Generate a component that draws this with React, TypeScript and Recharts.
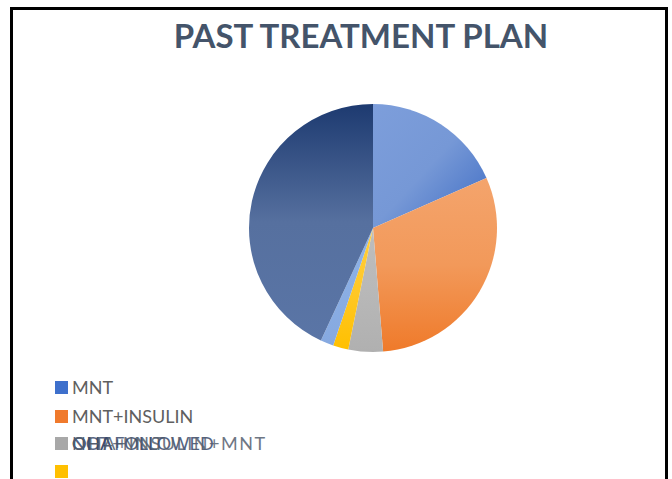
import React from "react";
import { PieChart, Pie, Cell, Legend } from "recharts";

const categories = ["MNT", "MNT+INSULIN", "OHA+MNT", "OHA", "NOT FOLLOWED", "OHA+INSULIN+MNT"];
const values = [18.4, 30.3, 4.5, 2.0, 1.7, 43.1];
const title = "PAST TREATMENT PLAN";

const gradients = [
  { id: "g0", x1: 0, y1: 0, x2: 1, y2: 1, stops: ["#7D9EDB", "#7698D6", "#3E6CC4"] },
  { id: "g1", x1: 0, y1: 0, x2: 0, y2: 1, stops: ["#F4A46C", "#F2995A", "#EF7A2A"] },
  { id: "g2", x1: 0, y1: 0, x2: 0, y2: 1, stops: ["#BDBDBD", "#B8B8B8", "#B0B0B0"] },
  { id: "g3", x1: 0, y1: 0, x2: 0, y2: 1, stops: ["#FFCD3C", "#FFC828", "#FFC000"] },
  { id: "g4", x1: 0, y1: 0, x2: 0, y2: 1, stops: ["#8EB2E6", "#8AAEE4", "#86A9E0"] },
  { id: "g5", x1: 0, y1: 0, x2: 0, y2: 1, stops: ["#1D3A70", "#56709F", "#5A75A6"] },
];
const legendColors = ["#3E70CC", "#F07A2C", "#A8A8A8", "#FFC000"];

const data = categories.map((name, i) => ({ name, value: values[i] }));

const renderLegend = () => {
  const rowStyle: React.CSSProperties = {
    position: "absolute",
    left: 0,
    display: "flex",
    alignItems: "center",
    height: 18,
  };
  const sq = (c: string): React.CSSProperties => ({
    width: 13,
    height: 13,
    background: c,
    marginRight: 4,
    flex: "none",
  });
  const txt: React.CSSProperties = {
    fontFamily: "Lato, 'Open Sans', sans-serif",
    fontSize: 18,
    color: "#5F5F5F",
    whiteSpace: "nowrap",
    lineHeight: "18px",
  };
  return (
    <div style={{ position: "relative", width: 260, height: 100 }}>
      <div style={{ ...rowStyle, top: 0 }}>
        <div style={sq(legendColors[0])} />
        <span style={txt}>{categories[0]}</span>
      </div>
      <div style={{ ...rowStyle, top: 29 }}>
        <div style={sq(legendColors[1])} />
        <span style={txt}>{categories[1]}</span>
      </div>
      <div style={{ ...rowStyle, top: 56 }}>
        <div style={sq(legendColors[2])} />
        <div style={{ position: "relative", height: 18 }}>
          {[2, 3, 4, 5].map((k) => (
            <span
              key={k}
              style={{
                ...txt,
                position: "absolute",
                left: 0,
                top: 0,
                color: k === 4 || k === 3 ? "#3A4A6C" : "#55606F",
                opacity: 0.85,
                letterSpacing: k === 5 ? 1.5 : 0,
              }}
            >
              {categories[k]}
            </span>
          ))}
        </div>
      </div>
      <div style={{ ...rowStyle, top: 84 }}>
        <div style={sq(legendColors[3])} />
      </div>
    </div>
  );
};

export default function App() {
  return (
    <div style={{ position: "absolute", left: 0, top: 0, width: 672, height: 479, background: "#fff", overflow: "hidden" }}>
      <div
        style={{
          position: "absolute",
          left: 10,
          top: 7,
          width: 652,
          height: 500,
          border: "3px solid #000",
        }}
      />
      <div
        style={{
          position: "absolute",
          left: 0,
          width: 722,
          top: 15,
          textAlign: "center",
          fontFamily: "Lato, 'Open Sans', sans-serif",
          fontWeight: 700,
          fontSize: 33,
          color: "#44546A",
        }}
      >
        {title}
      </div>
      <div style={{ position: "absolute", left: 0, top: 0 }}>
        <PieChart width={672} height={479} margin={{ top: 0, right: 0, bottom: 0, left: 0 }}>
          <defs>
            {gradients.map((g) => (
              <linearGradient key={g.id} id={g.id} x1={g.x1} y1={g.y1} x2={g.x2} y2={g.y2}>
                <stop offset="0%" stopColor={g.stops[0]} />
                <stop offset="50%" stopColor={g.stops[1]} />
                <stop offset="100%" stopColor={g.stops[2]} />
              </linearGradient>
            ))}
          </defs>
          <Pie
            data={data}
            dataKey="value"
            nameKey="name"
            cx={373}
            cy={228}
            outerRadius={124}
            startAngle={90}
            endAngle={-270}
            stroke="none"
            isAnimationActive={false}
          >
            {data.map((d, i) => (
              <Cell key={d.name} fill={`url(#${gradients[i].id})`} />
            ))}
          </Pie>
          <Legend
            content={renderLegend}
            layout="vertical"
            wrapperStyle={{ position: "absolute", left: 55, top: 378, width: 260 }}
          />
        </PieChart>
      </div>
    </div>
  );
}
